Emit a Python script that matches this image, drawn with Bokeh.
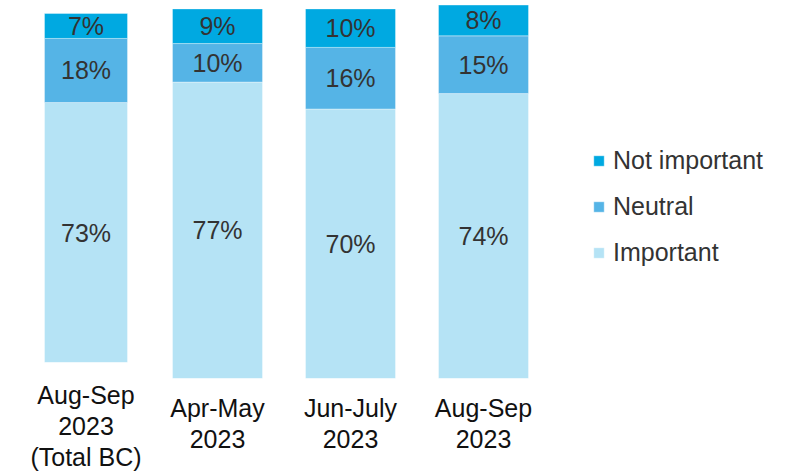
from bokeh.plotting import figure
from bokeh.layouts import row
from bokeh.models import ColumnDataSource, Range1d, FixedTicker, Legend, LegendItem
from bokeh.core.properties import value
from bokeh.embed import file_html
from bokeh.resources import INLINE

# ---- data ----
total_labels = ["Aug-Sep\n2023\n(Total BC)"]
total_important = [73]
total_neutral = [18]
total_not_important = [7]

wave_labels = ["Apr-May\n2023", "Jun-July\n2023", "Aug-Sep\n2023"]
wave_important = [77, 70, 74]
wave_neutral = [10, 16, 15]
wave_not_important = [9, 10, 8]

series_names = ["Important", "Neutral", "Not important"]
colors = ["#B5E3F5", "#55B4E6", "#00A9E1"]

FONT = value("Liberation Sans")
TXT = "#333333"


def panel(labels, imp, neu, noti, frame_w, frame_h, x_start, y_end, bar_w, standoff):
    n = len(labels)
    xs = list(range(n))
    src = ColumnDataSource(dict(x=xs, imp=imp, neu=neu, noti=noti))
    p = figure(frame_width=frame_w, frame_height=frame_h, output_backend="svg",
               toolbar_location=None, x_range=Range1d(x_start, x_start + frame_w / 133.0),
               y_range=Range1d(0, y_end), min_border_left=0, min_border_right=0,
               min_border_top=0, min_border_bottom=0, outline_line_color=None)
    rs = p.vbar_stack(["imp", "neu", "noti"], x="x", width=bar_w, color=colors,
                      line_color="white", line_alpha=0.35, line_width=1, source=src)
    # segment labels
    lx, ly, lt = [], [], []
    for i in range(n):
        vals = [imp[i], neu[i], noti[i]]
        base = 0
        for v in vals:
            lx.append(xs[i]); ly.append(base + v / 2.0); lt.append(f"{v}%")
            base += v
    tsrc = ColumnDataSource(dict(x=lx, y=ly, t=lt))
    p.text(x="x", y="y", text="t", source=tsrc, text_align="center",
           text_baseline="middle", text_font=FONT, text_font_size="25px",
           text_color=TXT)
    p.xaxis.ticker = FixedTicker(ticks=xs)
    p.xaxis.major_label_overrides = {i: labels[i] for i in xs}
    p.xaxis.axis_line_color = None
    p.xaxis.major_tick_line_color = None
    p.xaxis.minor_tick_line_color = None
    p.xaxis.major_label_text_font = "Liberation Sans"
    p.xaxis.major_label_text_font_size = "25px"
    p.xaxis.major_label_text_color = "#111111"
    p.xaxis.major_label_text_line_height = 1.12
    p.xaxis.major_label_standoff = standoff
    p.yaxis.visible = False
    p.xgrid.visible = False
    p.ygrid.visible = False
    return p, rs


p1, r1 = panel(total_labels, total_important, total_neutral, total_not_important,
               151, 362, -85.5 / 133.0, 362 / 3.561, 83 / 133.0, 12)
p2, r2 = panel(wave_labels, wave_important, wave_neutral, wave_not_important,
               647, 378, -66.0 / 133.0, 378 / 3.85, 90 / 133.0, 9)

legend = Legend(items=[LegendItem(label=series_names[2], renderers=[r2[2]]),
                       LegendItem(label=series_names[1], renderers=[r2[1]]),
                       LegendItem(label=series_names[0], renderers=[r2[0]])],
                location=(441, 111), border_line_color=None, background_fill_alpha=0,
                padding=0, margin=0, glyph_width=13, glyph_height=13, label_standoff=8,
                spacing=17, label_text_font="Liberation Sans", label_text_font_size="25px",
                label_text_color=TXT)
p2.add_layout(legend)

layout = row(p1, p2, spacing=0)
open("out.html", "w").write(file_html(layout, INLINE))
